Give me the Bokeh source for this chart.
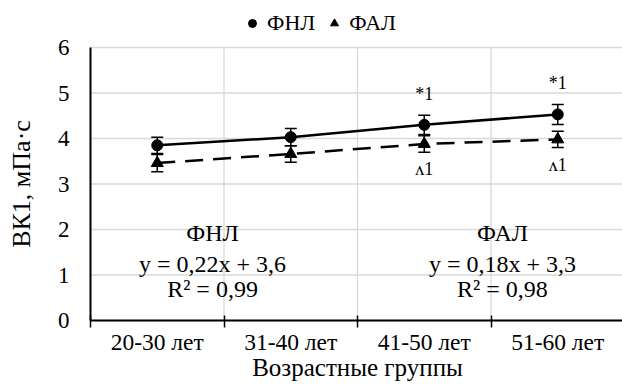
import numpy as np
from bokeh.plotting import figure
from bokeh.models import (Range1d, FixedTicker, Whisker, TeeHead, ColumnDataSource,
                          Legend, LegendItem, Label)
from bokeh.core.properties import value
from bokeh.embed import file_html
from bokeh.resources import INLINE

# ---- data ----
groups = ["20-30 лет", "31-40 лет", "41-50 лет", "51-60 лет"]
fnl = [3.85, 4.03, 4.30, 4.53]
fnl_err = [0.18, 0.19, 0.21, 0.22]
fal = [3.46, 3.66, 3.88, 3.98]
fal_err = [0.19, 0.18, 0.18, 0.18]
fnl_marks = ["", "", "*1", "*1"]
fal_marks = ["", "", "ʌ1", "ʌ1"]
y_ticks = [0, 1, 2, 3, 4, 5, 6]
series_names = ["ФНЛ", "ФАЛ"]
fnl_eq = ["ФНЛ", "y = 0,22x + 3,6", "R² = 0,99"]
fal_eq = ["ФАЛ", "y = 0,18x + 3,3", "R² = 0,98"]
x_title = "Возрастные группы"
y_title = "ВК1, мПа·с"

FONT = "Liberation Serif"
GRID = "#d9d9d9"

W, H = 622, 384
PX_X, PX_Y = 133.5, 45.5          # pixels per data unit
X0_PX, Y0_PX = 90, 320            # canvas position of the data origin
x_start, x_end = -X0_PX / PX_X, (W - X0_PX) / PX_X
y_start, y_end = -(H - Y0_PX) / PX_Y, Y0_PX / PX_Y

xs = np.arange(len(groups)) + 0.5
bounds = list(np.arange(len(groups) + 1))
ytop = max(y_ticks)

p = figure(width=W, height=H, output_backend="svg", toolbar_location=None,
           x_range=Range1d(x_start, x_end), y_range=Range1d(y_start, y_end),
           min_border=0)
p.outline_line_color = None
p.background_fill_color = "white"
p.border_fill_color = "white"
p.xgrid.visible = False
p.ygrid.visible = False

# grid lines (limited to plot area)
p.segment(x0=[0] * len(y_ticks), y0=y_ticks, x1=[x_end] * len(y_ticks), y1=y_ticks,
          line_color=GRID, line_width=1.3, level="underlay")
p.segment(x0=bounds[1:], y0=[0] * len(bounds[1:]), x1=bounds[1:], y1=[ytop] * len(bounds[1:]),
          line_color=GRID, line_width=1.3, level="underlay")

# x axis
xt = FixedTicker(ticks=list(xs), minor_ticks=bounds)
xa = p.xaxis[0]
xa.fixed_location = 0
xa.bounds = (0, x_end)
xa.ticker = xt
xa.major_label_overrides = {float(x): g for x, g in zip(xs, groups)}
xa.major_tick_in = 0
xa.major_tick_out = 0
xa.minor_tick_in = 5
xa.minor_tick_out = 7
xa.minor_tick_line_width = 1.5
xa.minor_tick_line_color = "black"
xa.axis_line_width = 2
xa.axis_line_color = "black"
xa.major_label_standoff = 1
xa.major_label_text_font = FONT
xa.major_label_text_font_size = "23.5px"
xa.major_label_text_color = "black"

# y axis
yt = FixedTicker(ticks=y_ticks, minor_ticks=[])
ya = p.yaxis[0]
ya.fixed_location = 0
ya.bounds = (0, ytop)
ya.ticker = yt
ya.major_tick_in = 0
ya.major_tick_out = 0
ya.minor_tick_in = 0
ya.minor_tick_out = 0
ya.axis_line_width = 2
ya.axis_line_color = "black"
ya.major_label_standoff = 21
ya.major_label_text_font = FONT
ya.major_label_text_font_size = "23px"
ya.major_label_text_color = "black"

# error bars
for vals, errs in ((fnl, fnl_err), (fal, fal_err)):
    v = np.array(vals); e = np.array(errs)
    src = ColumnDataSource(dict(x=xs, up=v + e, lo=v - e))
    w = Whisker(base="x", upper="up", lower="lo", source=src, line_width=1.5,
                line_color="black",
                upper_head=TeeHead(size=12, line_width=1.5, line_color="black"),
                lower_head=TeeHead(size=12, line_width=1.5, line_color="black"))
    w.level = "glyph"
    p.add_layout(w)

# lines & markers
p.line(xs, fnl, line_width=2.5, line_color="black")
p.line(xs, fal, line_width=2.5, line_color="black", line_dash="18 10")
r1 = p.scatter(xs, fnl, marker="circle", size=11, color="black")
r2 = p.scatter(xs, fal, marker="triangle", size=12, color="black")

# significance marks
p.text(x=xs, y=np.array(fnl) + 0.68, text=fnl_marks, text_font=value(FONT),
       text_font_size="18px", text_align="center", text_baseline="middle", text_color="black")
p.text(x=xs, y=np.array(fal) - 0.56, text=fal_marks, text_font=value(FONT),
       text_font_size="18px", text_align="center", text_baseline="middle", text_color="black")

# equation blocks
eq_y = [1.93, 1.25, 0.70]
p.text(x=[0.914] * 3, y=eq_y, text=fnl_eq, text_font=value(FONT), text_font_size="24px",
       text_align="center", text_baseline="middle", text_color="black")
p.text(x=[3.086] * 3, y=eq_y, text=fal_eq, text_font=value(FONT), text_font_size="24px",
       text_align="center", text_baseline="middle", text_color="black")

# axis titles
p.add_layout(Label(x=2.0, y=-1.04, text=x_title, text_font=FONT, text_font_size="25px",
                   text_align="center", text_baseline="middle", text_color="black"))
p.add_layout(Label(x=-0.517, y=3.0, text=y_title, text_font=FONT, text_font_size="26px",
                   angle=np.pi / 2, text_align="center", text_baseline="middle", text_color="black"))

# legend
legend = Legend(items=[LegendItem(label=series_names[0], renderers=[r1]),
                       LegendItem(label=series_names[1], renderers=[r2])],
                orientation="horizontal", location=(242, 348), margin=0,
                border_line_color=None, background_fill_alpha=0,
                padding=0, spacing=9, label_standoff=5, glyph_width=20, glyph_height=20,
                label_text_font=FONT, label_text_font_size="22px", label_text_color="black")
p.add_layout(legend)

open("out.html", "w").write(file_html(p, INLINE))
